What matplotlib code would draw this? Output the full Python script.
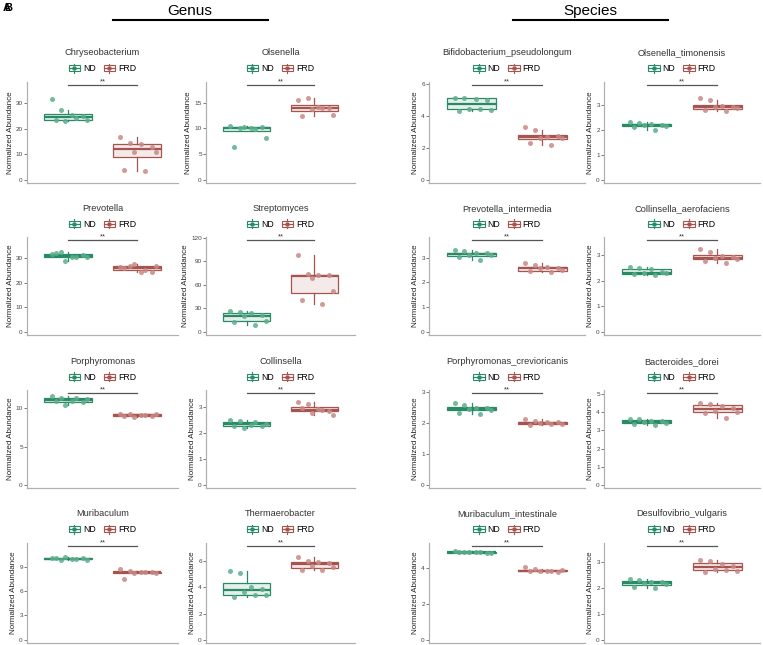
import numpy as np
import matplotlib
matplotlib.use("Agg")
import matplotlib.pyplot as plt
from matplotlib.patches import Rectangle
from matplotlib.lines import Line2D
from matplotlib.legend_handler import HandlerBase

plt.rcParams['font.family'] = ['Liberation Sans', 'DejaVu Sans']

# ── Data ─────────────────────────────────────────────────
titles = [
    "Chryseobacterium", "Olsenella", "Bifidobacterium_pseudolongum", "Olsenella_timonensis",
    "Prevotella", "Streptomyces", "Prevotella_intermedia", "Collinsella_aerofaciens",
    "Porphyromonas", "Collinsella", "Porphyromonas_crevioricanis", "Bacteroides_dorei",
    "Muribaculum", "Thermaerobacter", "Muribaculum_intestinale", "Desulfovibrio_vulgaris",
]

nd_vals = [
    [31.7, 27.5, 25.5, 25.0, 23.2, 23.3, 23.6, 24.2],
    [10.4, 10.1, 10.0, 10.2, 10.2, 8.0, 6.4, 9.9],
    [5.17, 5.15, 5.1, 5.0, 4.45, 4.4, 4.35, 4.47],
    [2.33, 2.3, 2.26, 2.22, 2.2, 2.16, 2.12, 2.02],
    [31.7, 32.7, 30.4, 31.2, 28.7, 30.7, 32.0, 30.4],
    [27, 25, 24, 21, 20, 13.5, 12, 9],
    [3.31, 3.27, 3.2, 3.18, 3.1, 3.1, 3.03, 2.9],
    [2.52, 2.47, 2.45, 2.32, 2.3, 2.28, 2.24, 2.21],
    [11.6, 11.3, 11.0, 10.8, 10.5, 11.2, 10.9, 11.4],
    [2.5, 2.45, 2.3, 2.25, 2.2, 2.35, 2.28, 2.4],
    [2.62, 2.56, 2.48, 2.46, 2.44, 2.42, 2.3, 2.27],
    [3.64, 3.62, 3.55, 3.5, 3.48, 3.44, 3.38, 3.3],
    [10.1, 9.8, 9.9, 10.0, 10.2, 9.85, 10.05, 9.95],
    [5.25, 5.1, 4.05, 3.9, 3.65, 3.45, 3.3, 3.45],
    [4.95, 4.9, 4.88, 4.85, 4.9, 4.83, 4.87, 4.92],
    [2.35, 2.3, 2.25, 2.22, 2.2, 2.15, 2.05, 2.0],
]

frd_vals = [
    [16.7, 14.3, 14.0, 12.7, 11.0, 10.7, 3.7, 3.3],
    [15.5, 15.8, 14.2, 14.0, 13.7, 12.5, 12.3, 13.9],
    [3.33, 3.1, 2.7, 2.72, 2.63, 2.6, 2.33, 2.2],
    [3.3, 3.23, 2.97, 2.95, 2.93, 2.88, 2.8, 2.76],
    [26.4, 26.7, 24.4, 24.3, 27.6, 26.9, 25.9, 25.3],
    [98.6, 73.3, 72.9, 72.5, 68.6, 51.9, 40.7, 35.6],
    [2.78, 2.7, 2.62, 2.58, 2.57, 2.5, 2.45, 2.43],
    [3.24, 3.1, 2.97, 2.9, 2.86, 2.84, 2.77, 2.7],
    [9.3, 9.2, 9.1, 9.0, 8.9, 9.2, 9.0, 9.1],
    [3.2, 3.1, 2.9, 2.85, 2.75, 2.7, 2.95, 2.88],
    [2.12, 2.05, 2.03, 2.02, 1.98, 1.97, 1.93, 1.95],
    [4.5, 4.45, 4.38, 4.25, 4.1, 4.05, 3.97, 3.71],
    [8.75, 8.5, 8.3, 8.35, 8.2, 8.25, 7.5, 8.3],
    [6.35, 6.0, 5.95, 5.9, 5.65, 5.55, 5.3, 5.35],
    [4.05, 3.95, 3.85, 3.8, 3.83, 3.9, 3.82, 3.86],
    [3.1, 3.05, 2.95, 2.85, 2.75, 2.65, 2.62, 2.7],
]

y_ticks = [
    [0, 10, 20, 30], [0, 5, 10, 15], [0, 2, 4, 6], [0, 1, 2, 3],
    [0, 10, 20, 30], [0, 30, 60, 90, 120], [0, 1, 2, 3], [0, 1, 2, 3],
    [0, 5, 10], [0, 1, 2, 3], [0, 1, 2, 3], [0, 1, 2, 3, 4, 5],
    [0, 3, 6, 9], [0, 2, 4, 6], [0, 2, 4], [0, 1, 2, 3],
]

y_top = [38.4, 19.0, 6.15, 3.95,
         38.7, 121, 3.85, 3.7,
         12.4, 3.65, 3.05, 5.24,
         11.9, 7.4, 5.4, 3.75]

# ── Style ────────────────────────────────────────────────
ND_COL, FRD_COL = "#2a8a66", "#a65450"
ND_PT, FRD_PT = "#5cae8b", "#c98985"
JITTER = [-0.24, -0.10, 0.06, 0.22, -0.04, 0.28, -0.18, 0.12]

W, H = 763, 645
col_px = [(27, 178), (206, 355), (429, 585), (604, 760)]
row_px = [(82, 183), (237, 335), (390, 488), (543, 643)]


class BoxKey(HandlerBase):
    def create_artists(self, legend, orig_handle, xd, yd, width, height, fontsize, trans):
        c = orig_handle.get_edgecolor()
        x0, y0 = -xd, -yd
        arts = [
            Line2D([x0 + width / 2] * 2, [y0 - height * 0.2, y0 + height * 1.2], color=c, lw=0.8),
            Rectangle((x0, y0 + height * 0.05), width, height * 0.9,
                      fc="white", ec=c, lw=0.8),
            Line2D([x0, x0 + width], [y0 + height / 2] * 2, color=c, lw=0.9),
            Line2D([x0 + width / 2], [y0 + height / 2], marker="o", ms=2.2, color=c, lw=0),
        ]
        for a in arts:
            a.set_transform(trans)
        return arts


fig = plt.figure(figsize=(W / 100, H / 100), dpi=100)

for i, name in enumerate(titles):
    r, c = divmod(i, 4)
    (x1, x2), (y1, y2) = col_px[c], row_px[r]
    ax = fig.add_axes([x1 / W, 1 - y2 / H, (x2 - x1) / W, (y2 - y1) / H])

    groups = [nd_vals[i], frd_vals[i]]
    for k, (vals, lc, pc) in enumerate(zip(groups, [ND_COL, FRD_COL], [ND_PT, FRD_PT])):
        bp = ax.boxplot(vals, positions=[k + 1], widths=0.7, showfliers=False, patch_artist=True,
                        showcaps=False, whis=1.5)
        for b in bp['boxes']:
            b.set(edgecolor=lc, linewidth=0.9)
            b.set_facecolor(matplotlib.colors.to_rgba(lc, 0.12))
        for w in bp['whiskers']:
            w.set(color=lc, linewidth=0.9)
        for m in bp['medians']:
            m.set(color=lc, linewidth=1.6)
        xs = [k + 1 + JITTER[j % len(JITTER)] for j in range(len(vals))]
        ax.scatter(xs, vals, s=13, color=pc, alpha=0.85, lw=0, zorder=3)

    top = y_top[i]
    ax.set_xlim(0.4, 2.6)
    ax.set_ylim(-0.035 * top, top)
    ax.set_xticks([])
    ax.set_yticks(y_ticks[i])
    ax.tick_params(axis='y', labelsize=4.6, colors="#444444", length=2, width=0.5, pad=1)
    for s in ['top', 'right']:
        ax.spines[s].set_visible(False)
    for s in ['left', 'bottom']:
        ax.spines[s].set_color("#b0b0b0")
        ax.spines[s].set_linewidth(0.9)
    ax.set_ylabel("Normalized Abundance", fontsize=5.8, color="#222222", labelpad=1.5)

    # significance bar
    yb = top * 0.965
    ax.plot([1, 2], [yb, yb], color="#555555", lw=0.9, clip_on=False)
    ax.text(1.5, yb, "**", ha="center", va="bottom", fontsize=5.5, color="#333333")

    ax.text(0.5, 1.29, name, transform=ax.transAxes, ha="center", va="center",
            fontsize=6.7, color="#333333")
    h1 = Rectangle((0, 0), 1, 1, ec=ND_COL, fc="white")
    h2 = Rectangle((0, 0), 1, 1, ec=FRD_COL, fc="white")
    ax.legend([h1, h2], ["ND", "FRD"], handler_map={Rectangle: BoxKey()}, loc="center",
              bbox_to_anchor=(0.5, 1.13), ncol=2, frameon=False, fontsize=6.3,
              handlelength=1.3, handleheight=0.8, handletextpad=0.35, columnspacing=0.9,
              borderaxespad=0, borderpad=0)

# headers
fig.text(190 / W, 1 - 11 / H, "Genus", ha="center", va="center", fontsize=11)
fig.text(590 / W, 1 - 11 / H, "Species", ha="center", va="center", fontsize=11)
fig.add_artist(Line2D([113 / W, 268 / W], [1 - 20 / H] * 2, color="black", lw=1.5))
fig.add_artist(Line2D([513 / W, 668 / W], [1 - 20 / H] * 2, color="black", lw=1.5))
fig.text(3 / W, 1 - 8 / H, "A", ha="left", va="center", fontsize=8, fontweight="bold")
fig.text(4 / W, 1 - 8 / H, "B", ha="left", va="center", fontsize=8, fontweight="bold")

fig.savefig("out.png", dpi=100)
